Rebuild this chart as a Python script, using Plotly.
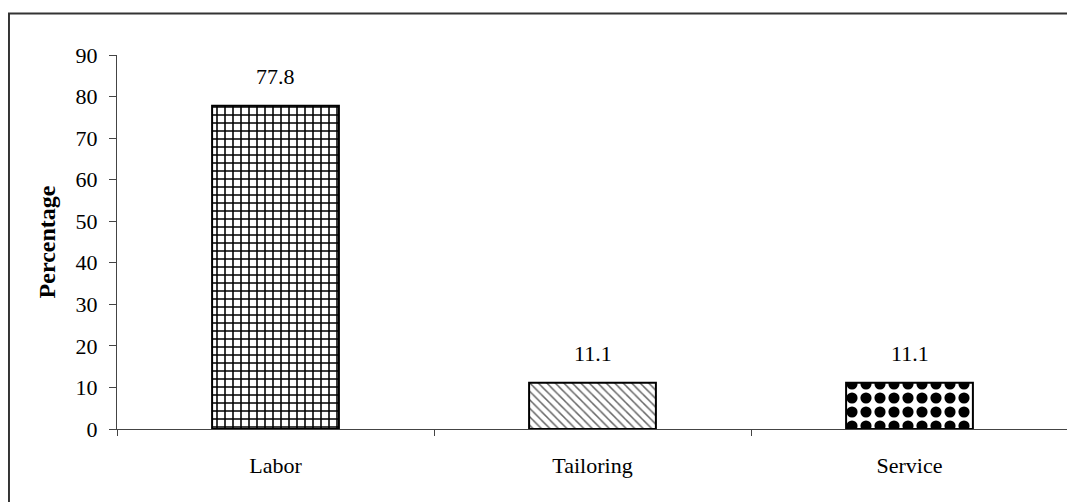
import plotly.graph_objects as go

categories = ["Labor", "Tailoring", "Service"]
values = [77.8, 11.1, 11.1]
labels = ["77.8", "11.1", "11.1"]
patterns = ["+", "\\", "."]
pattern_sizes = [8, 6, 14]
pattern_solidity = [0.35, 0.25, 0.5]
pattern_colors = ["black", "#666666", "black"]

FONT = "Liberation Serif, Times New Roman, serif"
FS = 22

fig = go.Figure()
fig.add_trace(go.Bar(
    x=categories,
    y=values,
    width=0.4,
    marker=dict(
        color="white",
        line=dict(color="black", width=2),
        pattern=dict(shape=patterns, size=pattern_sizes, solidity=pattern_solidity,
                     fgcolor=pattern_colors, bgcolor="white", fillmode="replace"),
    ),
    showlegend=False,
))

for c, v, t in zip(categories, values, labels):
    fig.add_annotation(x=c, y=v, text=t, showarrow=False, yshift=29,
                       font=dict(family=FONT, size=FS, color="black"))

fig.add_shape(type="rect", xref="paper", yref="paper",
              x0=-0.1136, x1=1.03, y0=-0.4, y1=1.111,
              line=dict(color="#333333", width=2), fillcolor="rgba(0,0,0,0)", layer="below")

fig.update_layout(
    width=1067, height=494,
    margin=dict(l=109, r=7, t=47, b=73),
    paper_bgcolor="white", plot_bgcolor="white",
    font=dict(family=FONT, size=FS, color="black"),
    bargap=0.6,
    xaxis=dict(
        showline=True, linecolor="#444444", linewidth=1,
        ticks="outside", ticklen=6, tickcolor="#444444", tickson="boundaries",
        ticklabelstandoff=17, showgrid=False, zeroline=False,
        tickfont=dict(family=FONT, size=FS),
    ),
    yaxis=dict(
        range=[0, 90], dtick=10, showline=True, linecolor="#444444", linewidth=1,
        ticks="outside", ticklen=7, tickcolor="#444444", showgrid=False, zeroline=False,
        ticklabelstandoff=7,
        tickfont=dict(family=FONT, size=FS),
        title=dict(text="<b>Percentage</b>", font=dict(family=FONT, size=24), standoff=13),
    ),
)

fig.write_html("out.html")
